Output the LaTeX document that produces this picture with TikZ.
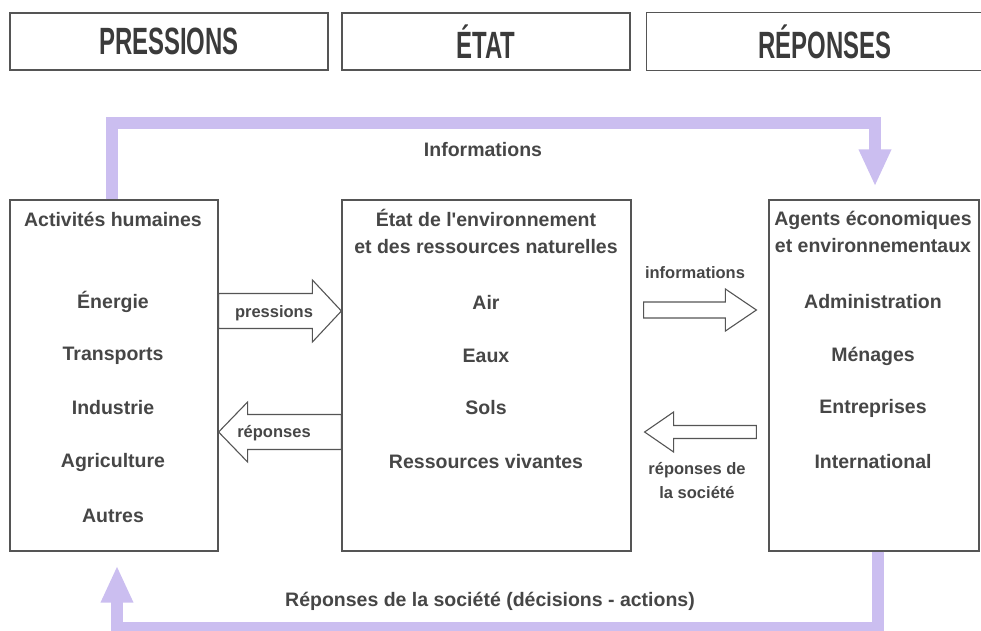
\documentclass[tikz,border=0pt]{standalone}
\usepackage{fontspec}
\usetikzlibrary{arrows.meta,calc}
\newfontfamily\bodyfont{Liberation Sans}
\newfontfamily\hdrfont{Liberation Sans}[FakeStretch=0.63]
\definecolor{lav}{RGB}{203,190,240}
\definecolor{boxgray}{RGB}{85,85,85}
\definecolor{txtgray}{RGB}{70,70,70}
\newcommand\blockarrow[5]{% start, tip, body half, head half, head length (signed)
  \draw[blk] let \p1=(#1), \p2=(#2) in
    ({\x1},{\y1+#3}) -- ({\x2-(#5)},{\y1+#3}) -- ({\x2-(#5)},{\y1+#4}) -- ({\x2},{\y2})
    -- ({\x2-(#5)},{\y1-#4}) -- ({\x2-(#5)},{\y1-#3}) -- ({\x1},{\y1-#3}) -- cycle;}
\begin{document}
\begin{tikzpicture}[x=1pt,y=-1pt,
  hdr/.style={draw=boxgray, line width=1.2pt, minimum height=57pt, inner sep=0pt,
    font=\hdrfont\bfseries\fontsize{38}{40}\selectfont, text=txtgray!85!black},
  bigbox/.style={draw=boxgray, line width=1.2pt, minimum height=351pt, inner sep=0pt},
  item/.style={font=\bodyfont\bfseries\fontsize{19.5}{27}\selectfont, text=txtgray, inner sep=0pt, align=center},
  lbl/.style={font=\bodyfont\bfseries\fontsize{16.5}{24}\selectfont, text=txtgray, inner sep=0pt, align=center},
  blk/.style={draw=boxgray, line width=1.1pt, fill=white, line join=miter},
  purp/.style={draw=lav, line width=12pt, line join=miter, -{Triangle[width=30pt,length=37pt,fill=lav]}}
]
\useasboundingbox (0,0) rectangle (981,630);

% headers
\node[hdr, minimum width=318pt] (H1) at (169,41.5) {PRESSIONS};
\node[hdr, minimum width=288pt] (H2) at (486,41.5) {ÉTAT};
\node[minimum width=340pt, minimum height=57pt, inner sep=0pt] (H3) at (817,41.5) {};
\draw[draw=boxgray, line width=1.2pt] (H3.north east) -- (H3.north west) -- (H3.south west) -- (H3.south east);
\node[hdr, draw=none] (H3t) at (825,41.5) {RÉPONSES};

% main boxes
\node[bigbox, minimum width=208pt] (L) at (114,375.5) {};
\node[bigbox, minimum width=289pt] (M) at (486.5,375.5) {};
\node[bigbox, minimum width=210pt] (R) at (874,375.5) {};

% purple feedback loops
\draw[purp] ($(L.north)+(-2,0)$) |- ($(R.north)+(1,-76)$) -- ($(R.north)+(1,-13)$);
\draw[purp] ($(R.south)+(4,0)$) |- ($(L.south)+(3,76)$) -- ($(L.south)+(3,14)$);

\node[item] (info) at (483,150) {Informations};
\node[item] (rep) at (490,601) {Réponses de la société (décisions - actions)};

% left box
\node[item] (Lt) at (113,219) {Activités humaines};
\node[item] (L1) at (113,302) {Énergie};
\node[item] (L2) at (113,356) {Transports};
\node[item] (L3) at (113,408) {Industrie};
\node[item] (L4) at (113,462) {Agriculture};
\node[item] (L5) at (113,516) {Autres};

% middle box
\node[item] (Mt) at (486,231) {État de l'environnement\\et des ressources naturelles};
\node[item] (M1) at (486,302) {Air};
\node[item] (M2) at (486,356) {Eaux};
\node[item] (M3) at (486,408) {Sols};
\node[item] (M4) at (486,462) {Ressources vivantes};

% right box
\node[item] (Rt) at (873,232) {Agents économiques\\et environnementaux};
\node[item] (R1) at (873,302) {Administration};
\node[item] (R2) at (873,356) {Ménages};
\node[item] (R3) at (873,408) {Entreprises};
\node[item] (R4) at (873,462) {International};

% block arrows
\coordinate (yP) at (0,311);
\coordinate (yQ) at (0,432);
\coordinate (yI) at (0,310);
\coordinate (aP1) at (L.east |- yP);
\coordinate (aP2) at (M.west |- yP);
\coordinate (aQ1) at (M.west |- yQ);
\coordinate (aQ2) at (L.east |- yQ);
\coordinate (aI1) at ($(M.east |- yI)+(12,0)$);
\coordinate (aI2) at ($(R.west |- yI)+(-12,0)$);
\coordinate (aS1) at ($(R.west |- yQ)+(-12,0)$);
\coordinate (aS2) at ($(M.east |- yQ)+(13,0)$);
\blockarrow{aP1}{aP2}{17.5pt}{31pt}{29pt}
\blockarrow{aQ1}{aQ2}{17.5pt}{30pt}{-29pt}
\blockarrow{aI1}{aI2}{8pt}{21pt}{31pt}
\blockarrow{aS1}{aS2}{6.5pt}{20pt}{-29pt}

\node[lbl] (lp) at (274,313) {pressions};
\node[lbl] (lr) at (274,433) {réponses};
\node[lbl] (li) at (695,273) {informations};
\node[lbl] (lrs) at (697,481) {réponses de\\la société};
\end{tikzpicture}
\end{document}
